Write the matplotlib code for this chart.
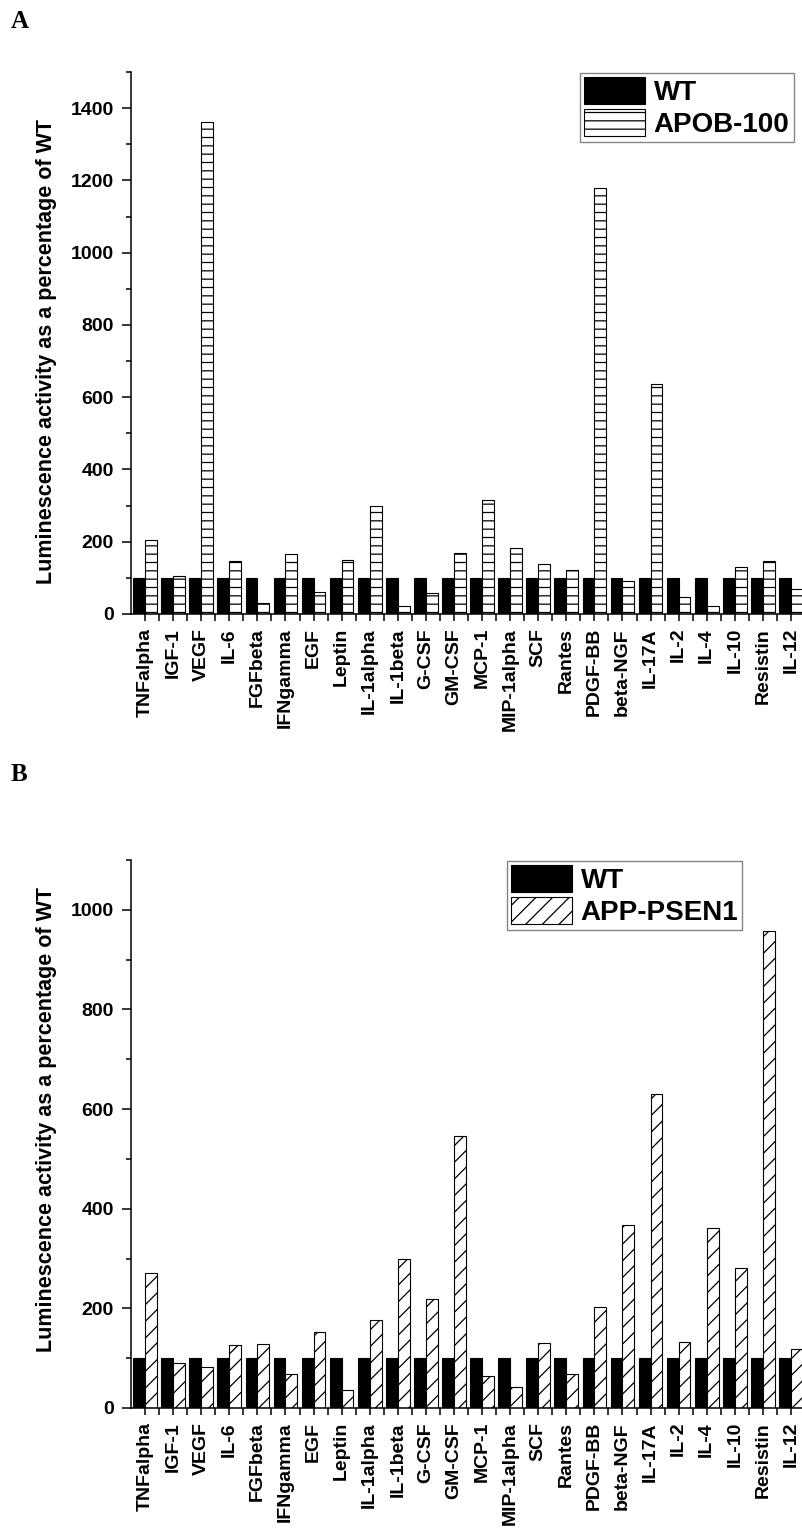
import matplotlib
matplotlib.use("Agg")
import matplotlib.pyplot as plt
from matplotlib.ticker import MultipleLocator, FixedLocator
import numpy as np

categories = ["TNFalpha", "IGF-1", "VEGF", "IL-6", "FGFbeta", "IFNgamma", "EGF",
              "Leptin", "IL-1alpha", "IL-1beta", "G-CSF", "GM-CSF", "MCP-1",
              "MIP-1alpha", "SCF", "Rantes", "PDGF-BB", "beta-NGF", "IL-17A",
              "IL-2", "IL-4", "IL-10", "Resistin", "IL-12"]

wt_a = [100, 100, 100, 100, 100, 100, 100, 100, 100, 100, 100, 100,
        100, 100, 100, 100, 100, 100, 100, 100, 100, 100, 100, 100]
apob100 = [205, 106, 1362, 147, 31, 166, 62, 150, 300, 21, 57, 169,
           316, 182, 137, 123, 1180, 90, 637, 46, 22, 131, 148, 69]

wt_b = [100, 100, 100, 100, 100, 100, 100, 100, 100, 100, 100, 100,
        100, 100, 100, 100, 100, 100, 100, 100, 100, 100, 100, 100]
app_psen1 = [270, 90, 83, 126, 128, 68, 153, 36, 177, 300, 219, 546,
             65, 43, 130, 69, 203, 368, 630, 133, 362, 281, 958, 119]

W, H = 802, 1532
DPI = 100
plt.rcParams["font.family"] = ["Liberation Sans", "DejaVu Sans"]
plt.rcParams["font.weight"] = "bold"
plt.rcParams["hatch.linewidth"] = 0.9

fig = plt.figure(figsize=(W / DPI, H / DPI), dpi=DPI)


def px_axes(left, top, right, bottom):
    return fig.add_axes([left / W, 1 - bottom / H, (right - left) / W, (bottom - top) / H])


def draw_panel(ax, wt, other, other_label, hatch, ymax, legend_box):
    x = np.arange(1, len(categories) + 1)
    bw = 0.42
    b1 = ax.bar(x - bw / 2, wt, bw, color="black", edgecolor="black", linewidth=0.8, label="WT")
    b2 = ax.bar(x + bw / 2, other, bw, color="white", edgecolor="black", linewidth=0.8,
                hatch=hatch, label=other_label)
    ax.set_xlim(0.5, len(categories) + 0.5)
    ax.set_ylim(0, ymax)
    ax.set_xticks(x)
    ax.set_xticklabels(categories, rotation=90, fontweight="bold")
    ax.xaxis.set_minor_locator(FixedLocator(x + 0.5))
    ax.yaxis.set_major_locator(MultipleLocator(200))
    ax.yaxis.set_minor_locator(MultipleLocator(100))
    ax.tick_params(axis="y", which="major", direction="out", length=6.5, width=1.1, pad=6, labelsize=14)
    ax.tick_params(axis="y", which="minor", direction="out", length=3.6, width=1.1)
    ax.tick_params(axis="x", which="major", direction="out", length=5, width=1.1, pad=5, labelsize=14)
    ax.tick_params(axis="x", which="minor", direction="out", length=5, width=1.1)
    ax.spines["top"].set_visible(False)
    ax.spines["right"].set_visible(False)
    ax.spines["left"].set_linewidth(1.1)
    ax.spines["bottom"].set_linewidth(1.1)
    leg = fig.legend(handles=[b1, b2], loc="upper left",
                     bbox_to_anchor=(legend_box[0] / W, 1 - legend_box[1] / H),
                     prop={"weight": "bold", "size": 20},
                     frameon=True, fancybox=False, edgecolor="#666666",
                     handlelength=2.2, handleheight=1.1, handletextpad=0.3,
                     labelspacing=0.12, borderpad=0.15, borderaxespad=0)
    leg.get_frame().set_linewidth(1.0)


ax_a = px_axes(131, 72, 805, 614)
draw_panel(ax_a, wt_a, apob100, "APOB-100", "--", 1500, (580, 73))

ax_b = px_axes(131, 860, 805, 1408)
draw_panel(ax_b, wt_b, app_psen1, "APP-PSEN1", "//", 1100, (507, 861))

ylabel = "Luminescence activity as a percentage of WT"
fig.text(47 / W, 1 - 352 / H, ylabel, rotation=90, ha="center", va="center",
         fontsize=15.5, fontweight="bold")
fig.text(47 / W, 1 - 1120 / H, ylabel, rotation=90, ha="center", va="center",
         fontsize=15.5, fontweight="bold")

fig.text(11 / W, 1 - 10 / H, "A", ha="left", va="top", fontsize=18,
         fontweight="bold", family="Liberation Serif")
fig.text(11 / W, 1 - 763 / H, "B", ha="left", va="top", fontsize=18,
         fontweight="bold", family="Liberation Serif")

fig.savefig("out.png", dpi=DPI)
